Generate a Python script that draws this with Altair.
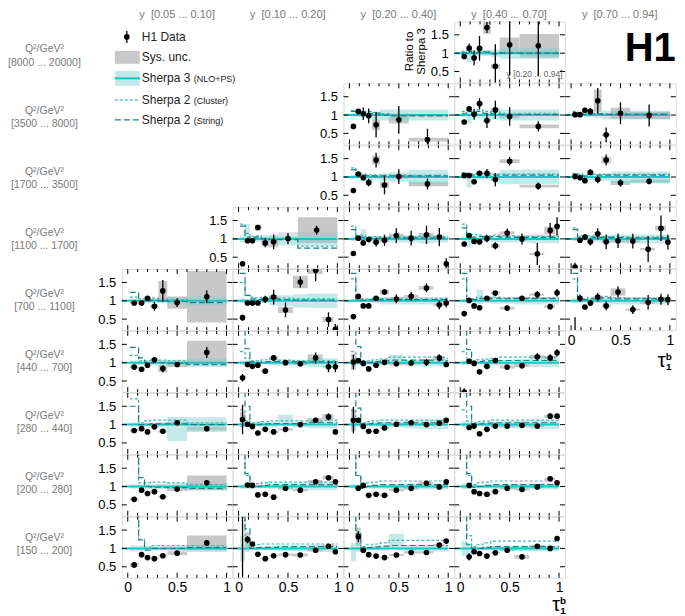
import altair as alt
import pandas as pd

FONT = "Liberation Sans"
W = 110.8
H = 61.15
XDOM = [-0.06, 1.06]
YDOM = [0.2, 1.865]

GRAY = "#c8c8c8"
BAND = "#7fcfcf"
CYAN = "#19c4c4"
CLU_C = "#45b3b3"
STR_C = "#1e7f86"
LABEL_GRAY = "#7a7a7a"

Y_BINS = ["y\u00a0 [0.05 ... 0.10]", "y\u00a0 [0.10 ... 0.20]", "y\u00a0 [0.20 ... 0.40]",
          "y\u00a0 [0.40 ... 0.70]", "y\u00a0 [0.70 ... 0.94]"]
Q2_BINS = ["[8000 ... 20000]", "[3500 ... 8000]", "[1700 ... 3500]", "[1100 ... 1700]",
           "[700 ... 1100]", "[440 ... 700]", "[280 ... 440]", "[200 ... 280]", "[150 ... 200]"]

# tau_1^b binnings: centres, lower edges, upper edges
FINE_X = [0.04, 0.09, 0.14, 0.195, 0.27, 0.355, 0.475, 0.625, 0.78, 0.91, 0.98]
FINE_LO = [0.015, 0.065, 0.115, 0.165, 0.23, 0.31, 0.4, 0.55, 0.7, 0.85, 0.96]
FINE_HI = [0.065, 0.115, 0.165, 0.23, 0.31, 0.4, 0.55, 0.7, 0.85, 0.96, 1.0]
COARSE_X = [0.04, 0.09, 0.14, 0.195, 0.27, 0.355, 0.5, 0.79]
COARSE_LO = [0.015, 0.065, 0.115, 0.165, 0.23, 0.31, 0.4, 0.6]
COARSE_HI = [0.065, 0.115, 0.165, 0.23, 0.31, 0.4, 0.6, 1.0]
LOW_X = [0.065, 0.14, 0.2, 0.27, 0.355, 0.5, 0.8]
LOW_LO = [0.02, 0.11, 0.17, 0.23, 0.31, 0.4, 0.6]
LOW_HI = [0.11, 0.17, 0.23, 0.31, 0.4, 0.6, 1.0]
BINS = {"fine": (FINE_X, FINE_LO, FINE_HI), "coarse": (COARSE_X, COARSE_LO, COARSE_HI),
        "low": (LOW_X, LOW_LO, LOW_HI)}

# ---- panels: ratio to Sherpa 3, stat and sys errors, Sherpa 3 band, Sherpa 2 curves
R0C3 = dict(row=0, col=3, bins="coarse", skip=[],
            y=[0.91, 1.14, 0.87, 1.13, 1.70, 0.64, 1.23, 1.20],
            stat=[0.05, 0.12, 0.2, 0.34, 0.15, 0.6, 0.84, 0.82],
            sys=[0.02, 0.03, 0.03, 0.04, 0.17, 0.07, 0.2, 0.32],
            band=[0.05, 0.15, 0.07, 0.07, 0.08, 0.1, 0.15, 0.15],
            clu=[1.05, 1.08, 1.02, 1.05, 1.05, 1.0, 1.02, 1.02],
            strg=[1.0, 1.05, 1.0, 1.02, 1.03, 0.98, 1.0, 1.0], bmid={1: 0.9})
R1C2 = dict(row=1, col=2, bins="coarse", skip=[5],
            y=[0.69, 1.10, 1.035, 0.98, 0.735, 0.87, 0.33],
            stat=[0.03, 0.06, 0.17, 0.2, 0.35, 0.38, 0.3],
            sys=[0.02, 0.03, 0.04, 0.05, 0.15, 0.1, 0.05],
            band=[0.05, 0.05, 0.07, 0.07, 0.1, 0.15, 0.15, 0.15],
            clu=[1.12, 1.1, 1.08, 1.1, 1.07, 1.04, 1.02, 1.0],
            strg=[1.1, 1.08, 1.05, 1.05, 1.03, 1.0, 0.98, 0.98])
R1C3 = dict(row=1, col=3, bins="coarse", skip=[],
            y=[0.81, 1.17, 1.02, 1.31, 0.85, 1.14, 0.96, 0.69],
            stat=[0.03, 0.07, 0.15, 0.15, 0.2, 0.25, 0.25, 0.14],
            sys=[0.02, 0.03, 0.04, 0.05, 0.05, 0.06, 0.05, 0.05],
            band=[0.05, 0.17, 0.07, 0.07, 0.08, 0.12, 0.15, 0.15],
            clu=[1.1, 1.12, 1.08, 1.15, 1.1, 1.08, 1.05, 1.05],
            strg=[1.05, 1.1, 1.05, 1.1, 1.05, 1.03, 1.02, 1.02], bmid={1: 0.93})
R1C4 = dict(row=1, col=4, bins="coarse", skip=[],
            y=[1.01, 1.01, 1.13, 1.10, 1.39, 0.46, 1.05, 0.99],
            stat=[0.03, 0.04, 0.07, 0.1, 0.35, 0.2, 0.3, 0.3],
            sys=[0.02, 0.02, 0.03, 0.03, 0.3, 0.03, 0.15, 0.1],
            band=[0.06, 0.06, 0.06, 0.06, 0.08, 0.12, 0.12, 0.12],
            clu=[1.1, 1.05, 1.05, 1.05, 1.05, 1.03, 1.03, 1.03],
            strg=[1.05, 1.03, 1.02, 1.03, 1.03, 1.02, 1.02, 1.02])
R2C2 = dict(row=2, col=2, bins="coarse", skip=[],
            y=[0.63, 1.08, 0.98, 0.85, 1.46, 0.78, 1.01, 0.81],
            stat=[0.03, 0.05, 0.06, 0.1, 0.2, 0.25, 0.2, 0.15],
            sys=[0.02, 0.03, 0.03, 0.09, 0.12, 0.08, 0.05, 0.06],
            band=[0.05, 0.05, 0.1, 0.06, 0.07, 0.1, 0.13, 0.2],
            clu=[1.25, 1.1, 1.08, 1.06, 1.05, 1.05, 1.05, 1.05],
            strg=[1.2, 1.05, 1.05, 1.04, 1.03, 1.03, 1.03, 1.03])
R2C3 = dict(row=2, col=3, bins="coarse", skip=[],
            y=[1.04, 1.04, 0.87, 1.10, 1.10, 0.93, 1.43, 0.75],
            stat=[0.02, 0.03, 0.05, 0.07, 0.12, 0.18, 0.12, 0.1],
            sys=[0.02, 0.02, 0.03, 0.03, 0.03, 0.04, 0.05, 0.04],
            band=[0.05, 0.17, 0.06, 0.07, 0.07, 0.1, 0.2, 0.2],
            clu=[1.12, 1.1, 1.08, 1.12, 1.1, 1.08, 1.08, 1.08],
            strg=[1.1, 1.05, 1.05, 1.08, 1.05, 1.05, 1.05, 1.05], bmid={1: 0.88})
R2C4 = dict(row=2, col=4, bins="coarse", skip=[],
            y=[1.01, 0.98, 0.90, 1.13, 0.93, 1.46, 0.84, 0.88],
            stat=[0.02, 0.03, 0.05, 0.08, 0.1, 0.15, 0.1, 0.08],
            sys=[0.02, 0.02, 0.02, 0.03, 0.03, 0.1, 0.06, 0.05],
            band=[0.04, 0.04, 0.05, 0.08, 0.06, 0.1, 0.15, 0.15],
            clu=[1.1, 1.08, 1.05, 1.1, 1.08, 1.07, 1.07, 1.07],
            strg=[1.08, 1.05, 1.03, 1.06, 1.05, 1.05, 1.05, 1.05])
R3C1 = dict(row=3, col=1, bins="coarse", skip=[],
            y=[0.32, 0.95, 0.95, 1.31, 0.89, 0.92, 1.01, 1.24],
            stat=[0.05, 0.03, 0.03, 0.07, 0.12, 0.2, 0.15, 0.12],
            sys=[0.02, 0.02, 0.02, 0.08, 0.1, 0.15, 0.05, 0.35],
            band=[0.1, 0.25, 0.1, 0.08, 0.1, 0.12, 0.18, 0.18],
            clu=[1.4, 1.15, 1.05, 1.08, 1.02, 1.0, 1.0, 0.8],
            strg=[1.35, 1.05, 1.0, 1.05, 1.0, 0.98, 0.98, 0.75], bmid={1: 1.15})
R3C2 = dict(row=3, col=2, bins="fine", skip=[],
            y=[0.60, 1.02, 0.89, 0.98, 0.91, 0.96, 1.09, 1.02, 1.11, 1.05, 0.32],
            stat=[0.05, 0.04, 0.04, 0.06, 0.12, 0.15, 0.2, 0.2, 0.25, 0.25, 0.15],
            sys=[0.02, 0.02, 0.02, 0.03, 0.03, 0.04, 0.05, 0.05, 0.05, 0.05, 0.04],
            band=[0.06, 0.05, 0.15, 0.06, 0.07, 0.08, 0.1, 0.1, 0.12, 0.1, 0.1],
            clu=[1.35, 1.08, 1.1, 1.06, 1.06, 1.05, 1.05, 1.05, 1.06, 1.05, 1.05],
            strg=[1.25, 1.02, 1.05, 1.03, 1.02, 1.02, 1.03, 1.03, 1.03, 1.03, 1.03], bmid={2: 1.12})
R3C3 = dict(row=3, col=3, bins="fine", skip=[],
            y=[0.86, 1.09, 0.93, 0.92, 1.01, 0.81, 1.16, 1.0, 0.59, 1.23, 1.34],
            stat=[0.05, 0.03, 0.05, 0.07, 0.1, 0.1, 0.12, 0.15, 0.3, 0.2, 0.25],
            sys=[0.02, 0.02, 0.02, 0.03, 0.03, 0.05, 0.04, 0.04, 0.03, 0.1, 0.05],
            band=[0.06, 0.15, 0.06, 0.06, 0.07, 0.08, 0.1, 0.1, 0.12, 0.12, 0.12],
            clu=[1.4, 1.1, 1.12, 1.1, 1.08, 1.1, 1.08, 1.07, 1.07, 1.07, 1.07],
            strg=[1.3, 1.05, 1.05, 1.06, 1.05, 1.06, 1.05, 1.04, 1.04, 1.04, 1.04], bmid={1: 0.92})
R3C4 = dict(row=3, col=4, bins="fine", skip=[],
            y=[0.23, 0.96, 1.05, 0.92, 1.14, 0.92, 0.95, 0.94, 0.72, 1.29, 0.91],
            stat=[0.12, 0.06, 0.08, 0.1, 0.15, 0.2, 0.2, 0.2, 0.35, 0.35, 0.2],
            sys=[0.03, 0.02, 0.03, 0.03, 0.04, 0.04, 0.04, 0.04, 0.03, 0.07, 0.04],
            band=[0.06, 0.05, 0.06, 0.07, 0.08, 0.1, 0.12, 0.12, 0.12, 0.12, 0.12],
            clu=[1.3, 1.08, 1.05, 1.08, 1.06, 1.06, 1.06, 1.05, 1.05, 1.05, 1.05],
            strg=[1.25, 1.05, 1.03, 1.05, 1.04, 1.04, 1.04, 1.03, 1.03, 1.03, 1.03])
R4C0 = dict(row=4, col=0, bins="low", skip=[],
            y=[0.94, 0.94, 1.07, 0.85, 1.27, 0.95, 1.11],
            stat=[0.03, 0.03, 0.04, 0.12, 0.3, 0.12, 0.18],
            sys=[0.03, 0.03, 0.03, 0.05, 0.27, 0.17, 0.7],
            band=[0.06, 0.06, 0.06, 0.06, 0.07, 0.1, 0.12],
            clu=[1.1, 1.05, 1.05, 1.07, 1.05, 1.03, 1.0],
            strg=[1.23, 1.0, 1.0, 1.02, 1.0, 0.98, 0.95])
R4C1 = dict(row=4, col=1, bins="fine", skip=[],
            y=[0.54, 0.94, 0.94, 0.94, 1.04, 1.10, 0.75, 1.51, 1.83, 0.49, 0.22],
            stat=[0.08, 0.02, 0.02, 0.02, 0.1, 0.2, 0.2, 0.15, 0.3, 0.2, 0.15],
            sys=[0.02, 0.02, 0.02, 0.02, 0.03, 0.05, 0.08, 0.17, 0.1, 0.07, 0.05],
            band=[0.06, 0.05, 0.05, 0.05, 0.06, 0.12, 0.15, 0.18, 0.2, 0.2, 0.2],
            clu=[1.5, 1.15, 1.1, 1.08, 1.1, 1.1, 1.07, 1.05, 1.05, 1.05, 1.05],
            strg=[1.75, 1.15, 1.05, 1.03, 1.05, 1.05, 1.03, 1.02, 1.02, 1.02, 1.0])
R4C2 = dict(row=4, col=2, bins="fine", skip=[],
            y=[0.57, 1.12, 0.86, 0.86, 1.07, 1.24, 1.05, 1.12, 1.35, 0.89, 0.94],
            stat=[0.05, 0.03, 0.02, 0.02, 0.06, 0.07, 0.12, 0.12, 0.12, 0.12, 0.12],
            sys=[0.02, 0.02, 0.02, 0.02, 0.03, 0.07, 0.04, 0.04, 0.05, 0.04, 0.04],
            band=[0.05, 0.05, 0.05, 0.05, 0.06, 0.1, 0.1, 0.1, 0.1, 0.1, 0.1],
            clu=[1.6, 1.08, 1.05, 1.05, 1.05, 1.06, 1.05, 1.05, 1.05, 1.05, 1.05],
            strg=[1.75, 1.05, 1.02, 1.03, 1.03, 1.03, 1.03, 1.03, 1.03, 1.03, 1.03])
R4C3 = dict(row=4, col=3, bins="fine", skip=[],
            y=[0.65, 1.01, 0.86, 0.81, 1.07, 1.21, 0.80, 1.07, 1.17, 0.84, 1.22],
            stat=[0.07, 0.03, 0.02, 0.02, 0.04, 0.06, 0.04, 0.06, 0.1, 0.07, 0.1],
            sys=[0.02, 0.02, 0.02, 0.02, 0.03, 0.04, 0.04, 0.03, 0.03, 0.04, 0.03],
            band=[0.05, 0.05, 0.05, 0.2, 0.06, 0.08, 0.08, 0.1, 0.1, 0.1, 0.1],
            clu=[1.6, 1.05, 1.05, 1.1, 1.08, 1.1, 1.08, 1.08, 1.08, 1.08, 1.08],
            strg=[1.75, 1.03, 1.03, 1.06, 1.05, 1.07, 1.06, 1.06, 1.06, 1.06, 1.06], bmid={3: 1.1})
R4C4 = dict(row=4, col=4, bins="fine", skip=[],
            y=[0.1, 1.07, 0.83, 0.94, 1.10, 0.86, 1.24, 0.76, 0.96, 1.04, 1.03],
            stat=[0.45, 0.1, 0.05, 0.08, 0.12, 0.12, 0.15, 0.12, 0.2, 0.15, 0.15],
            sys=[0.05, 0.03, 0.02, 0.03, 0.03, 0.04, 0.1, 0.03, 0.04, 0.04, 0.04],
            band=[0.06, 0.05, 0.05, 0.05, 0.06, 0.08, 0.1, 0.1, 0.1, 0.1, 0.1],
            clu=[1.6, 1.1, 1.05, 1.08, 1.1, 1.12, 1.08, 1.07, 1.07, 1.07, 1.07],
            strg=[1.75, 1.1, 1.03, 1.05, 1.05, 1.08, 1.05, 1.05, 1.05, 1.05, 1.05])
R5C0 = dict(row=5, col=0, bins="low", skip=[],
            y=[0.88, 0.82, 0.93, 1.08, 0.84, 0.95, 1.28],
            stat=[0.02, 0.02, 0.03, 0.04, 0.1, 0.07, 0.15],
            sys=[0.04, 0.03, 0.03, 0.03, 0.1, 0.07, 0.32],
            band=[0.06, 0.06, 0.06, 0.07, 0.07, 0.08, 0.12],
            clu=[1.2, 1.05, 1.05, 1.07, 1.07, 1.05, 1.0],
            strg=[1.42, 1.13, 1.0, 1.0, 1.0, 0.98, 0.95])
R5C1 = dict(row=5, col=1, bins="fine", skip=[],
            y=[0.59, 0.95, 0.90, 0.93, 0.77, 1.13, 1.0, 0.97, 1.13, 0.89, 0.89],
            stat=[0.1, 0.03, 0.02, 0.02, 0.03, 0.06, 0.07, 0.07, 0.15, 0.15, 0.15],
            sys=[0.02, 0.02, 0.02, 0.02, 0.03, 0.04, 0.03, 0.03, 0.1, 0.03, 0.03],
            band=[0.06, 0.05, 0.05, 0.05, 0.05, 0.07, 0.08, 0.08, 0.12, 0.12, 0.12],
            clu=[1.3, 1.12, 1.05, 1.05, 1.08, 1.1, 1.07, 1.05, 1.05, 1.05, 1.05],
            strg=[2.5, 1.38, 1.02, 1.0, 1.02, 1.03, 1.03, 1.02, 1.02, 1.02, 1.02])
R5C2 = dict(row=5, col=2, bins="fine", skip=[],
            y=[1.02, 1.06, 0.98, 0.83, 0.93, 1.01, 0.97, 0.99, 1.01, 1.13, 0.95],
            stat=[0.2, 0.03, 0.03, 0.02, 0.02, 0.04, 0.05, 0.07, 0.1, 0.1, 0.07],
            sys=[0.22, 0.03, 0.03, 0.02, 0.03, 0.04, 0.04, 0.04, 0.04, 0.05, 0.04],
            band=[0.08, 0.06, 0.05, 0.05, 0.06, 0.07, 0.12, 0.08, 0.1, 0.1, 0.1],
            clu=[1.3, 1.1, 1.05, 1.05, 1.08, 1.1, 1.15, 1.15, 1.15, 1.15, 1.12],
            strg=[2.5, 1.44, 1.02, 1.0, 1.03, 1.05, 1.07, 1.07, 1.07, 1.07, 1.05], bmid={6: 1.1})
R5C3 = dict(row=5, col=3, bins="fine", skip=[],
            y=[0.2, 1.04, 0.98, 0.75, 0.90, 1.06, 0.88, 0.92, 1.16, 1.13, 1.27],
            stat=[0.1, 0.02, 0.02, 0.03, 0.03, 0.05, 0.05, 0.07, 0.1, 0.1, 0.1],
            sys=[0.03, 0.03, 0.02, 0.03, 0.03, 0.03, 0.04, 0.04, 0.05, 0.04, 0.04],
            band=[0.06, 0.06, 0.05, 0.05, 0.06, 0.07, 0.08, 0.1, 0.12, 0.12, 0.12],
            clu=[1.3, 1.1, 1.05, 1.08, 1.1, 1.12, 1.15, 1.15, 1.15, 1.15, 1.15],
            strg=[2.5, 1.36, 1.03, 1.03, 1.05, 1.06, 1.06, 1.06, 1.06, 1.06, 1.06])
R6C0 = dict(row=6, col=0, bins="low", skip=[],
            y=[0.84, 0.89, 0.80, 0.94, 0.82, 1.05, 0.89],
            stat=[0.02, 0.02, 0.02, 0.03, 0.03, 0.05, 0.06],
            sys=[0.03, 0.03, 0.03, 0.04, 0.04, 0.03, 0.05],
            band=[0.06, 0.06, 0.06, 0.06, 0.07, 0.33, 0.2],
            clu=[1.7, 1.05, 1.1, 1.12, 1.12, 1.12, 1.05],
            strg=[1.5, 1.0, 1.0, 1.02, 1.02, 1.02, 1.0], bmid={5: 0.88})
R6C1 = dict(row=6, col=1, bins="fine", skip=[],
            y=[1.14, 1.01, 0.95, 0.77, 0.87, 0.80, 0.87, 1.0, 1.12, 1.21, 0.80],
            stat=[0.4, 0.03, 0.02, 0.02, 0.02, 0.02, 0.03, 0.04, 0.07, 0.1, 0.05],
            sys=[0.2, 0.03, 0.02, 0.02, 0.03, 0.03, 0.03, 0.03, 0.06, 0.08, 0.03],
            band=[0.08, 0.06, 0.05, 0.05, 0.06, 0.07, 0.15, 0.08, 0.1, 0.1, 0.1],
            clu=[1.4, 1.1, 1.05, 1.06, 1.08, 1.1, 1.1, 1.1, 1.1, 1.12, 1.12],
            strg=[2.5, 1.5, 1.0, 1.0, 1.02, 1.03, 1.03, 1.03, 1.05, 1.05, 1.05], bmid={6: 1.12})
R6C2 = dict(row=6, col=2, bins="fine", skip=[],
            y=[1.12, 1.12, 0.95, 0.82, 0.82, 0.91, 1.01, 1.05, 1.0, 1.04, 1.12],
            stat=[0.36, 0.03, 0.02, 0.02, 0.02, 0.03, 0.03, 0.04, 0.04, 0.05, 0.05],
            sys=[0.3, 0.03, 0.02, 0.02, 0.02, 0.03, 0.03, 0.03, 0.03, 0.03, 0.03],
            band=[0.08, 0.06, 0.05, 0.05, 0.06, 0.07, 0.08, 0.1, 0.12, 0.12, 0.12],
            clu=[1.4, 1.1, 1.05, 1.08, 1.1, 1.12, 1.12, 1.12, 1.12, 1.12, 1.12],
            strg=[2.5, 1.45, 1.02, 1.02, 1.04, 1.05, 1.05, 1.05, 1.05, 1.05, 1.05])
R6C3 = dict(row=6, col=3, bins="fine", skip=[0],
            y=[0.92, 0.96, 0.75, 0.87, 0.96, 0.96, 0.98, 0.96, 1.23, 1.23],
            stat=[0.04, 0.02, 0.02, 0.02, 0.03, 0.03, 0.04, 0.04, 0.07, 0.07],
            sys=[0.03, 0.03, 0.02, 0.02, 0.03, 0.03, 0.03, 0.03, 0.04, 0.04],
            band=[0.1, 0.06, 0.05, 0.05, 0.06, 0.07, 0.1, 0.1, 0.12, 0.12, 0.12],
            clu=[1.4, 1.1, 1.05, 1.08, 1.1, 1.12, 1.12, 1.12, 1.12, 1.12, 1.12],
            strg=[2.5, 1.5, 1.02, 1.02, 1.04, 1.05, 1.05, 1.05, 1.05, 1.05, 1.05])
R7C0 = dict(row=7, col=0, bins="low", skip=[],
            y=[0.65, 0.90, 0.81, 0.86, 0.72, 0.93, 1.10],
            stat=[0.03, 0.02, 0.02, 0.02, 0.02, 0.03, 0.05],
            sys=[0.03, 0.02, 0.03, 0.03, 0.03, 0.05, 0.2],
            band=[0.06, 0.06, 0.06, 0.06, 0.07, 0.08, 0.1],
            clu=[2.5, 1.1, 1.1, 1.12, 1.12, 1.1, 1.05],
            strg=[2.5, 1.24, 1.0, 0.98, 0.98, 0.97, 0.95])
R7C1 = dict(row=7, col=1, bins="fine", skip=[0],
            y=[1.04, 1.03, 0.77, 0.79, 0.71, 0.95, 0.90, 1.13, 1.24, 1.13],
            stat=[0.04, 0.02, 0.02, 0.02, 0.02, 0.03, 0.03, 0.05, 0.06, 0.06],
            sys=[0.03, 0.03, 0.02, 0.02, 0.02, 0.03, 0.03, 0.05, 0.05, 0.04],
            band=[0.06, 0.06, 0.05, 0.05, 0.05, 0.06, 0.08, 0.08, 0.1, 0.1, 0.1],
            clu=[2.5, 1.3, 1.05, 1.08, 1.1, 1.12, 1.12, 1.12, 1.12, 1.12, 1.12],
            strg=[2.5, 1.35, 1.0, 1.0, 1.03, 1.05, 1.05, 1.05, 1.05, 1.05, 1.05])
R7C2 = dict(row=7, col=2, bins="fine", skip=[0],
            y=[0.95, 1.03, 0.76, 0.79, 0.76, 0.90, 0.95, 1.09, 0.99, 1.13],
            stat=[0.03, 0.02, 0.02, 0.02, 0.02, 0.02, 0.03, 0.04, 0.04, 0.04],
            sys=[0.03, 0.03, 0.03, 0.03, 0.03, 0.03, 0.03, 0.03, 0.03, 0.03],
            band=[0.06, 0.06, 0.05, 0.05, 0.05, 0.06, 0.07, 0.08, 0.08, 0.08, 0.08],
            clu=[2.5, 1.3, 1.05, 1.1, 1.12, 1.15, 1.15, 1.15, 1.15, 1.15, 1.15],
            strg=[2.5, 1.3, 0.95, 1.0, 1.03, 1.05, 1.05, 1.05, 1.05, 1.05, 1.05])
R7C3 = dict(row=7, col=3, bins="fine", skip=[0],
            y=[1.03, 0.86, 0.81, 0.79, 0.86, 0.95, 0.92, 0.99, 1.21, 1.10],
            stat=[0.03, 0.02, 0.02, 0.02, 0.02, 0.03, 0.03, 0.04, 0.05, 0.05],
            sys=[0.03, 0.03, 0.03, 0.03, 0.03, 0.03, 0.03, 0.03, 0.03, 0.03],
            band=[0.08, 0.06, 0.05, 0.05, 0.05, 0.06, 0.07, 0.08, 0.08, 0.08, 0.08],
            clu=[2.5, 1.3, 1.05, 1.1, 1.12, 1.15, 1.15, 1.15, 1.15, 1.15, 1.15],
            strg=[2.5, 1.35, 0.98, 1.0, 1.03, 1.05, 1.05, 1.05, 1.05, 1.05, 1.05])
R8C0 = dict(row=8, col=0, bins="low", skip=[],
            y=[0.55, 0.83, 0.75, 0.72, 0.80, 0.87, 1.15],
            stat=[0.08, 0.02, 0.02, 0.02, 0.02, 0.02, 0.07],
            sys=[0.05, 0.02, 0.03, 0.03, 0.03, 0.05, 0.2],
            band=[0.08, 0.08, 0.06, 0.06, 0.06, 0.07, 0.1],
            clu=[2.5, 1.25, 1.0, 1.08, 1.08, 1.08, 1.07],
            strg=[2.5, 1.23, 0.95, 1.0, 1.0, 1.0, 1.02])
R8C1 = dict(row=8, col=1, bins="fine", skip=[],
            y=[2.2, 1.24, 1.12, 0.84, 0.72, 0.80, 0.83, 0.82, 0.95, 1.06, 0.91],
            stat=[2.0, 0.1, 0.05, 0.02, 0.02, 0.02, 0.02, 0.03, 0.04, 0.06, 0.05],
            sys=[0.1, 0.2, 0.03, 0.02, 0.02, 0.02, 0.03, 0.04, 0.03, 0.04, 0.04],
            band=[0.35, 0.1, 0.05, 0.05, 0.05, 0.06, 0.07, 0.08, 0.1, 0.1, 0.1],
            clu=[2.5, 1.3, 1.08, 1.1, 1.12, 1.12, 1.12, 1.12, 1.12, 1.12, 1.12],
            strg=[2.5, 1.54, 1.0, 1.02, 1.03, 1.03, 1.05, 1.05, 1.05, 1.05, 1.05])
R8C2 = dict(row=8, col=2, bins="fine", skip=[0],
            y=[1.32, 0.95, 0.83, 0.79, 0.75, 0.82, 0.89, 0.89, 1.09, 1.20],
            stat=[0.15, 0.02, 0.02, 0.02, 0.02, 0.02, 0.02, 0.03, 0.05, 0.04],
            sys=[0.25, 0.03, 0.02, 0.02, 0.02, 0.03, 0.03, 0.03, 0.03, 0.03],
            band=[0.25, 0.1, 0.05, 0.05, 0.05, 0.06, 0.2, 0.08, 0.08, 0.08, 0.08],
            clu=[2.5, 1.4, 1.05, 1.1, 1.12, 1.15, 1.22, 1.22, 1.22, 1.22, 1.22],
            strg=[2.5, 1.4, 1.0, 1.02, 1.04, 1.06, 1.08, 1.08, 1.08, 1.08, 1.08], bmid={0: 0.9, 6: 1.2})
R8C3 = dict(row=8, col=3, bins="fine", skip=[0],
            y=[0.77, 0.91, 0.86, 0.79, 0.88, 0.95, 0.77, 1.06, 1.0, 1.27],
            stat=[0.1, 0.03, 0.02, 0.02, 0.02, 0.03, 0.02, 0.03, 0.04, 0.05],
            sys=[0.03, 0.03, 0.02, 0.02, 0.02, 0.03, 0.05, 0.03, 0.03, 0.03],
            band=[0.2, 0.15, 0.05, 0.05, 0.05, 0.06, 0.07, 0.07, 0.08, 0.08, 0.08],
            clu=[2.5, 1.35, 1.05, 1.1, 1.15, 1.2, 1.2, 1.2, 1.2, 1.2, 1.2],
            strg=[2.5, 1.1, 1.0, 1.0, 1.03, 1.05, 1.05, 1.05, 1.05, 1.05, 1.05])

PANELS = [R0C3, R1C2, R1C3, R1C4, R2C2, R2C3, R2C4, R3C1, R3C2, R3C3, R3C4,
          R4C0, R4C1, R4C2, R4C3, R4C4, R5C0, R5C1, R5C2, R5C3, R6C0, R6C1, R6C2, R6C3,
          R7C0, R7C1, R7C2, R7C3, R8C0, R8C1, R8C2, R8C3]

XT_MINOR = [0.1, 0.2, 0.3, 0.4, 0.6, 0.7, 0.8, 0.9]
XT_MAJOR = [0.0, 0.5, 1.0]
YT_MAJOR = [0.5, 1.0, 1.5]

FIRST_COL = {}
for p in PANELS:
    FIRST_COL[p["row"]] = min(FIRST_COL.get(p["row"], 9), p["col"])


def make_panel(p):
    r, c = p["row"], p["col"]
    bx, blo, bhi = BINS[p["bins"]]
    keep = [i for i in range(len(bx)) if i not in p["skip"]]
    d = pd.DataFrame({"x": [bx[i] for i in keep], "lo": [blo[i] for i in keep],
                      "hi": [bhi[i] for i in keep], "v": p["y"], "stat": p["stat"], "sys": p["sys"]})
    d["vlo"] = d["v"] - d["stat"]
    d["vhi"] = d["v"] + d["stat"]
    d["slo"] = d["v"] - d["sys"]
    d["shi"] = d["v"] + d["sys"]
    mids = [p.get("bmid", {}).get(i, 1.0) for i in range(len(bx))]
    t = pd.DataFrame({"lo": blo, "hi": bhi,
                      "blo": [m - h for m, h in zip(mids, p["band"])],
                      "bhi": [m + h for m, h in zip(mids, p["band"])]})
    st = pd.DataFrame({"x": list(blo) + [bhi[-1]], "clu": p["clu"] + [p["clu"][-1]],
                       "strg": p["strg"] + [p["strg"][-1]]})
    show_x = r == 8 or (r == 4 and c == 4)
    show_y = FIRST_COL[r] == c
    xax = alt.Axis(values=XT_MAJOR, format="~g", labelFontSize=14, labelColor="black",
                   labelPadding=3, ticks=False, tickSize=0, domain=False, grid=False,
                   title=None, labelFlush=False) if show_x else None
    yax = alt.Axis(values=YT_MAJOR, format="~g", labelFontSize=13, labelColor="black",
                   labelPadding=6, ticks=False, tickSize=0, domain=False, grid=False,
                   title=None, labelFlush=False) if show_y else None

    def X(f):
        return alt.X(f, type="quantitative", axis=xax,
                     scale=alt.Scale(domain=XDOM, nice=False, zero=False))

    def Y(f):
        return alt.Y(f, type="quantitative", axis=yax,
                     scale=alt.Scale(domain=YDOM, nice=False, zero=False))

    sysr = alt.Chart(d).mark_rect(color=GRAY, clip=True).encode(
        x=X("lo"), x2="hi", y=Y("slo"), y2="shi")
    band = alt.Chart(t).mark_rect(color=BAND, opacity=0.45, clip=True).encode(
        x=X("lo"), x2="hi", y=Y("blo"), y2="bhi")
    s3 = alt.Chart(pd.DataFrame({"a": [XDOM[0]], "b": [1.0], "u": [1.0]})).mark_rule(
        color=CYAN, strokeWidth=2).encode(x=X("a"), x2="b", y=Y("u"))
    clu = alt.Chart(st).mark_line(interpolate="step-after", color=CLU_C, strokeDash=[3, 2],
                                  strokeWidth=1.2, clip=True).encode(x=X("x"), y=Y("clu"))
    strg = alt.Chart(st).mark_line(interpolate="step-after", color=STR_C, strokeDash=[6, 3],
                                   strokeWidth=1.2, clip=True).encode(x=X("x"), y=Y("strg"))
    err = alt.Chart(d).mark_rule(color="black", strokeWidth=1.3, clip=True).encode(
        x=X("x"), y=Y("vlo"), y2="vhi")
    pts = alt.Chart(d).mark_circle(color="black", size=32, opacity=1, clip=True).encode(
        x=X("x"), y=Y("v"))
    tmin = pd.DataFrame({"t": XT_MINOR})
    tmaj = pd.DataFrame({"t": XT_MAJOR})
    ty = pd.DataFrame({"t": YT_MAJOR})
    tk = []
    for df, ln in ((tmin, 3), (tmaj, 5)):
        tk.append(alt.Chart(df).mark_rule(color="black", strokeWidth=1).encode(
            x=X("t"), y=alt.value(0), y2=alt.value(ln)))
        tk.append(alt.Chart(df).mark_rule(color="black", strokeWidth=1).encode(
            x=X("t"), y=alt.value(H), y2=alt.value(H - ln)))
    tk.append(alt.Chart(ty).mark_rule(color="black", strokeWidth=1).encode(
        y=Y("t"), x=alt.value(0), x2=alt.value(5)))
    tk.append(alt.Chart(ty).mark_rule(color="black", strokeWidth=1).encode(
        y=Y("t"), x=alt.value(W - 5), x2=alt.value(W)))
    return alt.layer(sysr, band, s3, clu, strg, err, pts, *tk).properties(width=W, height=H)


def blank():
    return alt.Chart(pd.DataFrame({"k": [0]})).mark_point(opacity=0).encode(
        x=alt.value(0), y=alt.value(0)).properties(
        width=W, height=H, view=alt.ViewBackground(strokeOpacity=0))


def text_layer(rows, size, color, align="center", baseline="middle", weight="normal", angle=0):
    df = pd.DataFrame(rows, columns=["px", "py", "txt"])
    return alt.Chart(df).mark_text(fontSize=size, color=color, align=align, baseline=baseline,
                                   fontWeight=weight, font=FONT, angle=angle).encode(
        x=alt.X("px:Q", scale=None, axis=None), y=alt.Y("py:Q", scale=None, axis=None),
        text="txt:N")


def annotations():
    one = pd.DataFrame({"k": [0]})
    layers = []
    # row labels
    rl = []
    for r, q in enumerate(Q2_BINS):
        rl.append((-77.5, H * (r + 0.5) - 2.5, "Q²/GeV²"))
        rl.append((-77.5, H * (r + 0.5) + 11, q))
    layers.append(text_layer(rl, 10.5, LABEL_GRAY))
    # column headers
    ch = [(W * (c + 0.5), -12.7, s) for c, s in enumerate(Y_BINS)]
    layers.append(text_layer(ch, 11, LABEL_GRAY, baseline="top"))
    # legend
    layers.append(alt.Chart(one).mark_rect(color=GRAY).encode(
        x=alt.value(-7), x2=alt.value(18), y=alt.value(29.5), y2=alt.value(42.5)))
    layers.append(alt.Chart(one).mark_rect(color=BAND, opacity=0.45).encode(
        x=alt.value(-7), x2=alt.value(18), y=alt.value(49.5), y2=alt.value(64.5)))
    layers.append(alt.Chart(one).mark_rule(color=CYAN, strokeWidth=2).encode(
        x=alt.value(-7), x2=alt.value(18), y=alt.value(57)))
    layers.append(alt.Chart(one).mark_rule(color=CLU_C, strokeWidth=1.2, strokeDash=[3, 2]).encode(
        x=alt.value(-7), x2=alt.value(18), y=alt.value(78.5)))
    layers.append(alt.Chart(one).mark_rule(color=STR_C, strokeWidth=1.2, strokeDash=[6, 3]).encode(
        x=alt.value(-7), x2=alt.value(18), y=alt.value(98.5)))
    layers.append(alt.Chart(one).mark_rule(color="black", strokeWidth=1.3).encode(
        x=alt.value(5), y=alt.value(9.5), y2=alt.value(21.5)))
    layers.append(alt.Chart(one).mark_circle(color="black", size=32, opacity=1).encode(
        x=alt.value(5), y=alt.value(15.5)))
    lt = [(20, 15.5, "H1 Data"), (20, 36, "Sys. unc."), (20, 57, "Sherpa 3"),
          (20, 78.5, "Sherpa 2"), (20, 98.5, "Sherpa 2")]
    layers.append(text_layer(lt, 12, "#222222", align="left"))
    ls = [(72, 58, "(NLO+PS)"), (72, 79.5, "(Cluster)"), (72, 99.5, "(String)")]
    layers.append(text_layer(ls, 9, "#222222", align="left"))
    # H1 logo
    layers.append(text_layer([(4 * W + 86, 39.5, "H1")], 40, "black",
                             baseline="alphabetic", weight="bold"))
    # ratio label and merged-bin note of the top panel
    layers.append(text_layer([(3 * W - 44, 30, "Ratio to"), (3 * W - 32, 30, "Sherpa 3")],
                             11.5, "black", angle=270))
    layers.append(text_layer([(3 * W + 81, 52.5, "y [0.20 ... 0.94]")], 8.5, "#666666"))
    # tau_1^b axis titles
    tau, sup, sub = [], [], []
    for (c, bottom, dx) in ((3, 9 * H, 102.5), (4, 5 * H, 97.5)):
        x0 = c * W + dx
        tau.append((x0, bottom + 34, "τ"))
        sup.append((x0 + 7, bottom + 30, "b"))
        sub.append((x0 + 7, bottom + 40, "1"))
    layers.append(text_layer(tau, 20, "black"))
    layers.append(text_layer(sup, 10, "black", weight="bold"))
    layers.append(text_layer(sub, 10, "black", weight="bold"))
    return alt.layer(*layers).properties(width=W, height=H,
                                         view=alt.ViewBackground(strokeOpacity=0))


grid = {(p["row"], p["col"]): p for p in PANELS}
cells = []
for r in range(9):
    for c in range(5):
        if (r, c) in grid:
            cells.append(make_panel(grid[(r, c)]))
        elif (r, c) == (0, 0):
            cells.append(annotations())
        else:
            cells.append(blank())

chart = alt.concat(*cells, columns=5, spacing=0, bounds="flush", padding=0).configure_view(
    stroke="black", strokeWidth=1.5).configure(font=FONT)

chart.save("out.html", embed_options={"renderer": "svg", "actions": False})
